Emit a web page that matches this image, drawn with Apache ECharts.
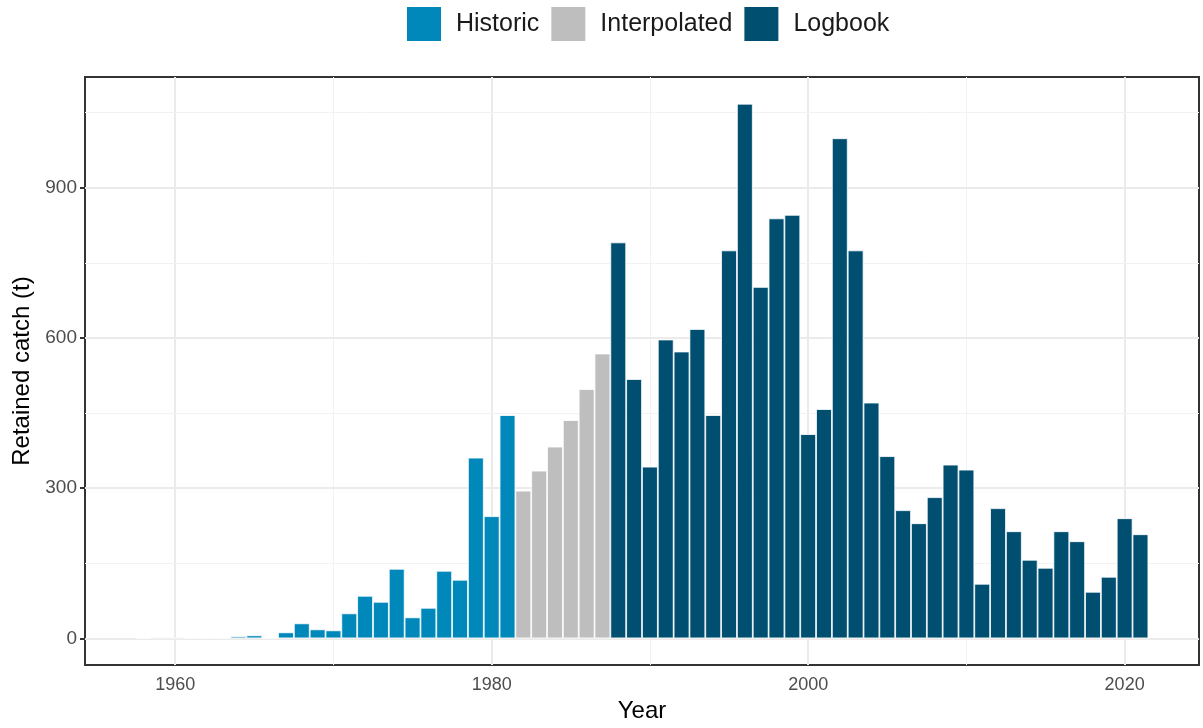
<!DOCTYPE html>
<html>
<head>
<meta charset="utf-8">
<script src="https://cdn.jsdelivr.net/npm/echarts@6/dist/echarts.min.js"></script>
<style>
html,body{margin:0;padding:0;background:#fff;}
#chart{width:1203px;height:728px;}
</style>
</head>
<body>
<div id="chart"></div>
<script>
// ---- Data ----
const historicYears = [1958,1959,1960,1961,1962,1963,1964,1965,1966,1967,1968,1969,1970,1971,1972,1973,1974,1975,1976,1977,1978,1979,1980,1981];
const historicValues = [1,2,2,1,1,1,4,6,1,12,30,18,16,50,85,73,139,42,61,135,117,361,244,446];
const interpolatedYears = [1982,1983,1984,1985,1986,1987];
const interpolatedValues = [295,335,383,436,498,569];
const logbookYears = [1988,1989,1990,1991,1992,1993,1994,1995,1996,1997,1998,1999,2000,2001,2002,2003,2004,2005,2006,2007,2008,2009,2010,2011,2012,2013,2014,2015,2016,2017,2018,2019,2020,2021];
const logbookValues = [791,518,343,597,573,618,446,775,1068,702,839,846,408,458,999,775,471,364,256,230,282,347,337,109,260,214,157,141,214,194,93,123,240,208];
const seriesNames = ['Historic','Interpolated','Logbook'];
const xTickLabels = [1960,1980,2000,2020];
const xMinorGrid = [1970,1990,2010];
const yTickLabels = [0,300,600,900];
const yMinorGrid = [150,450,750,1050];

// ---- Layout ----
const colors = {Historic:'#0088BB', Interpolated:'#BEBEBE', Logbook:'#004F71'};
const gridLeft = 85, gridRight = 4, gridTop = 77, gridBottom = 58;
const allYears = historicYears.concat(interpolatedYears, logbookYears);
const allVals = historicValues.concat(interpolatedValues, logbookValues);
const xLo = Math.min(...allYears) - 0.5, xHi = Math.max(...allYears) + 0.5;
const xPad = (xHi - xLo) * 0.05;
const xMin = xLo - xPad, xMax = xHi + xPad;
const yMaxData = Math.max(...allVals);
const yPad = yMaxData * 0.05;
const yMin = -yPad, yMax = yMaxData + yPad;
const plotW = 1203 - gridLeft - gridRight;
const barW = plotW / (xMax - xMin);

function pairs(xs, ys){ return xs.map((x,i)=>[x, ys[i]]); }

const gridLines = [];
xTickLabels.forEach(v=>gridLines.push({xAxis:v, lineStyle:{color:'#EBEBEB', width:2, type:'solid'}}));
xMinorGrid.forEach(v=>gridLines.push({xAxis:v, lineStyle:{color:'#F2F2F2', width:1, type:'solid'}}));
yTickLabels.forEach(v=>gridLines.push({yAxis:v, lineStyle:{color:'#EBEBEB', width:2, type:'solid'}}));
yMinorGrid.forEach(v=>gridLines.push({yAxis:v, lineStyle:{color:'#F2F2F2', width:1, type:'solid'}}));

const barSeries = [
  [seriesNames[0], historicYears, historicValues],
  [seriesNames[1], interpolatedYears, interpolatedValues],
  [seriesNames[2], logbookYears, logbookValues]
].map(([name, xs, ys]) => ({
  name: name,
  type: 'bar',
  data: pairs(xs, ys),
  barWidth: barW,
  barGap: '-100%',
  z: 3,
  itemStyle: {color: colors[name], borderColor: '#FFFFFF', borderWidth: 0.8}
}));

const chart = echarts.init(document.getElementById('chart'), null, {renderer:'canvas'});
chart.setOption({
  animation: false,
  backgroundColor: '#FFFFFF',
  textStyle: {fontFamily: '"Liberation Sans", Arial, sans-serif'},
  legend: {
    data: seriesNames,
    top: 7,
    left: 407,
    padding: 0,
    icon: 'rect',
    itemWidth: 34,
    itemHeight: 34,
    itemGap: 12,
    itemStyle: {borderWidth: 0},
    textStyle: {fontSize: 25, color: '#1A1A1A', padding: [0,0,0,10], fontFamily: '"Liberation Sans", Arial, sans-serif'}
  },
  grid: {
    left: gridLeft, right: gridRight, top: gridTop, bottom: gridBottom,
    show: true, borderColor: '#333333', borderWidth: 2, backgroundColor: '#FFFFFF'
  },
  xAxis: {
    type: 'value',
    min: xMin, max: xMax,
    name: 'Year',
    nameLocation: 'middle',
    nameGap: 32,
    nameTextStyle: {fontSize: 24, color: '#000000'},
    axisLine: {show: false},
    axisTick: {show: true, length: 5, customValues: xTickLabels, lineStyle: {color: '#333333', width: 2}},
    axisLabel: {customValues: xTickLabels, fontSize: 18, color: '#4D4D4D', margin: 11, formatter: v => String(v)},
    splitLine: {show: false}
  },
  yAxis: {
    type: 'value',
    min: yMin, max: yMax,
    name: 'Retained catch (t)',
    nameLocation: 'middle',
    nameGap: 48,
    nameTextStyle: {fontSize: 24, color: '#000000'},
    axisLine: {show: false},
    axisTick: {show: true, length: 5, customValues: yTickLabels, lineStyle: {color: '#333333', width: 2}},
    axisLabel: {customValues: yTickLabels, fontSize: 19, color: '#4D4D4D', margin: 8, formatter: v => String(v)},
    splitLine: {show: false}
  },
  series: [
    {
      name: 'grid',
      type: 'line',
      data: [],
      silent: true,
      z: 1,
      markLine: {silent: true, symbol: 'none', z: 1, label: {show: false}, animation: false, data: gridLines}
    }
  ].concat(barSeries)
});
</script>
</body>
</html>
